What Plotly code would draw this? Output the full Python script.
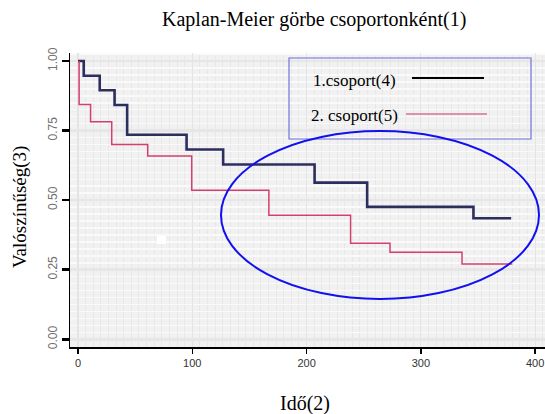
import plotly.graph_objects as go

# ---- data ----
group1_name = "1.csoport(4)"
group1_time = [0, 5, 19, 32, 43, 95, 127, 207, 253, 346, 379]
group1_surv = [1.0, 0.947, 0.895, 0.842, 0.735, 0.682, 0.628, 0.563, 0.476, 0.435, 0.435]

group2_name = "2. csoport(5)"
group2_time = [1, 1, 11, 29.5, 61, 99.5, 167, 238.5, 273, 336, 380]
group2_surv = [1.0, 0.844, 0.782, 0.700, 0.659, 0.536, 0.446, 0.345, 0.313, 0.271, 0.271]

x_ticks = [0, 100, 200, 300, 400]
y_ticks = [0.0, 0.25, 0.5, 0.75, 1.0]
y_tick_labels = ["0.00", "0.25", "0.50", "0.75", "1.00"]

W, H = 545, 414
L, R, T, B = 70, 0, 53, 67
XR = [-7.0, 408.6]
YR = [-0.0277, 1.0288]

def px(xpix):
    return (xpix - L) / (W - L - R)

def py(ypix):
    return (H - B - ypix) / (H - T - B)

fig = go.Figure()
fig.add_trace(go.Scatter(x=group1_time, y=group1_surv, mode="lines", line_shape="hv",
                         line=dict(color="#2c2f5e", width=2.6), name=group1_name,
                         showlegend=False, hoverinfo="skip"))
fig.add_trace(go.Scatter(x=group2_time, y=group2_surv, mode="lines", line_shape="hv",
                         line=dict(color="#d4406c", width=1.5), name=group2_name,
                         showlegend=False, hoverinfo="skip"))

shapes = []
# legend box
shapes.append(dict(type="rect", xref="paper", yref="paper", x0=px(289), x1=px(531),
                   y0=py(139), y1=py(58), line=dict(color="#6f73dc", width=1.2),
                   fillcolor="rgba(0,0,0,0)", layer="above"))
shapes.append(dict(type="line", xref="paper", yref="paper", x0=px(412), x1=px(484),
                   y0=py(78), y1=py(78), line=dict(color="black", width=2.2)))
shapes.append(dict(type="line", xref="paper", yref="paper", x0=px(406), x1=px(487),
                   y0=py(114), y1=py(114), line=dict(color="#d87090", width=1.3)))
# highlight ellipse
shapes.append(dict(type="circle", xref="paper", yref="paper", x0=px(221), x1=px(539),
                   y0=py(299), y1=py(131), line=dict(color="#1010f0", width=2),
                   fillcolor="rgba(0,0,0,0)", layer="above"))
# small white artifact square
shapes.append(dict(type="rect", xref="paper", yref="paper", x0=px(157), x1=px(166),
                   y0=py(244), y1=py(236), line=dict(width=0), fillcolor="white",
                   layer="above"))

annotations = [
    dict(text=group1_name, xref="paper", yref="paper", x=px(311), y=py(80),
         xanchor="left", yanchor="middle", showarrow=False,
         font=dict(family="Liberation Serif", size=17, color="black")),
    dict(text=group2_name, xref="paper", yref="paper", x=px(309), y=py(115),
         xanchor="left", yanchor="middle", showarrow=False,
         font=dict(family="Liberation Serif", size=17, color="black")),
    dict(text="Kaplan-Meier görbe csoportonként(1)", xref="paper", yref="paper",
         x=px(314), y=py(20), xanchor="center", yanchor="middle", showarrow=False,
         font=dict(family="Liberation Serif", size=20, color="black")),
    dict(text="Valószínűség(3)", xref="paper", yref="paper", x=px(20), y=py(207),
         xanchor="center", yanchor="middle", showarrow=False, textangle=-90,
         font=dict(family="Liberation Serif", size=19, color="black")),
    dict(text="Idő(2)", xref="paper", yref="paper", x=px(305), y=py(403),
         xanchor="center", yanchor="middle", showarrow=False,
         font=dict(family="Liberation Serif", size=20, color="black")),
]

fig.update_layout(
    width=W, height=H,
    margin=dict(l=L, r=R, t=T, b=B),
    paper_bgcolor="white",
    plot_bgcolor="#f1f1f1",
    shapes=shapes,
    annotations=annotations,
    showlegend=False,
    hovermode=False,
    xaxis=dict(range=XR, tickvals=x_ticks, showline=True, linecolor="black", linewidth=2,
               ticks="outside", ticklen=5, tickwidth=1.5, tickcolor="black",
               tickfont=dict(family="Liberation Sans", size=11, color="#333333"),
               showgrid=True, gridcolor="#e4e4e4", gridwidth=1.2, zeroline=False,
               minor=dict(dtick=100 / 15, tick0=0, showgrid=True, gridcolor="#e7e7e7",
                          gridwidth=1)),
    yaxis=dict(range=YR, tickvals=y_ticks, ticktext=y_tick_labels, tickangle=-90,
               showline=True, linecolor="black", linewidth=1.5,
               ticks="outside", ticklen=7, tickwidth=2.5, tickcolor="black",
               tickfont=dict(family="Liberation Sans", size=12, color="#707070"),
               showgrid=True, gridcolor="#e6e6e6", gridwidth=2.5, zeroline=False,
               minor=dict(dtick=0.025, tick0=0, showgrid=True, gridcolor="#fafafa",
                          gridwidth=1.5)),
)

fig.write_html("out.html", config={"displayModeBar": False, "staticPlot": True},
               post_script="document.body.style.margin='0';document.body.style.overflow='hidden';")
